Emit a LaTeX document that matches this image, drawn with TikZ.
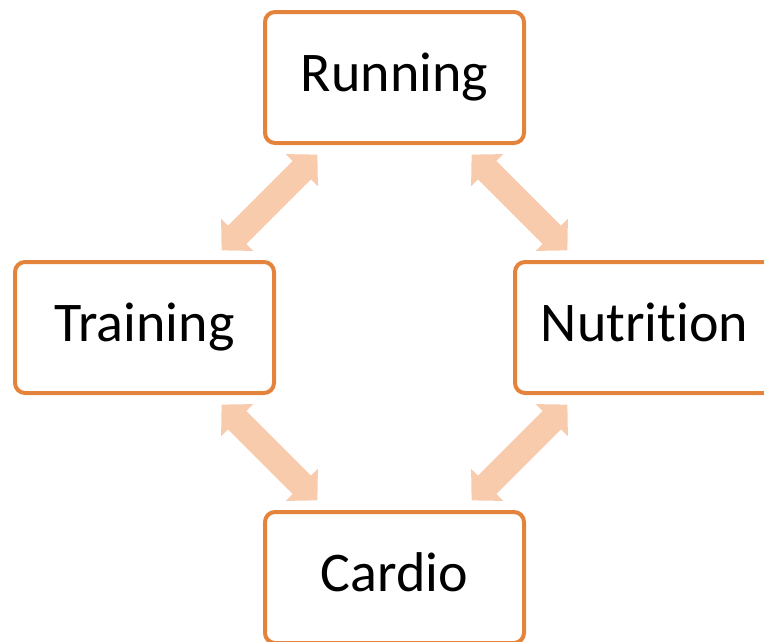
\documentclass[tikz,border=0pt]{standalone}
\usepackage{fontspec}
\setmainfont{Carlito}[RawFeature={-liga}]
\usetikzlibrary{arrows.meta}
\definecolor{boxline}{RGB}{228,132,60}
\definecolor{linkfill}{RGB}{248,203,173}
\begin{document}
\begin{tikzpicture}[x=1pt,y=-1pt,
  topic/.style={draw=boxline, line width=4pt, rounded corners=10pt, fill=white,
    minimum width=259pt, minimum height=131pt, inner sep=0pt,
    text height=40pt, text depth=13pt, font=\fontsize{56}{60}\selectfont},
  link/.style={draw=linkfill, line width=26pt,
    {Triangle[width=44pt,length=22pt]}-{Triangle[width=44pt,length=22pt]},
    shorten <=109pt, shorten >=109pt}]
\useasboundingbox (0,0) rectangle (764,641);
% the four topics
\node[topic] (run)    at (394.5,77.5)  {Running};
\node[topic] (train)  at (144.5,327.5) {Training};
\node[topic] (nutr)   at (644.5,327.5) {Nutrition};
\node[topic] (cardio) at (394.5,577.5) {Cardio};
% two-way links between neighbouring topics
\draw[link] (run.center) -- (train.center);
\draw[link] (run.center) -- (nutr.center);
\draw[link] (train.center) -- (cardio.center);
\draw[link] (nutr.center) -- (cardio.center);
\end{tikzpicture}
\end{document}
